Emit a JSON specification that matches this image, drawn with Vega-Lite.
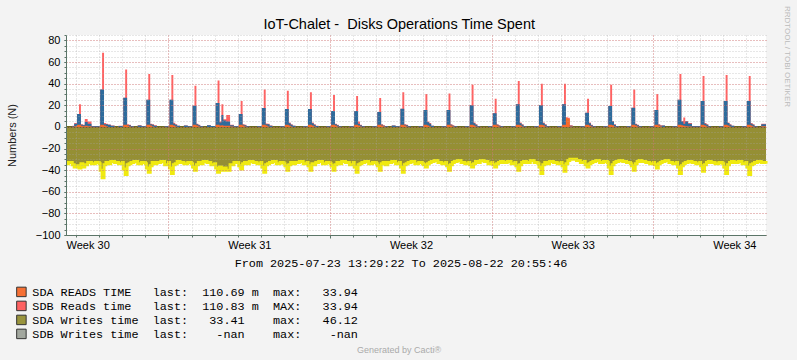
{
"$schema": "https://vega.github.io/schema/vega-lite/v6.json",
"width": 700, "height": 200,
"autosize": {"type": "none"},
"padding": {"left": 66, "top": 35, "right": 31, "bottom": 125},
"background": "#f3f3f3",
"config": {"view": {"stroke": null, "fill": "#ffffff"}, "axis": {"titleFontWeight": "normal", "labelFont": "Liberation Sans", "titleFont": "Liberation Sans"}},
"data": {"values": [
{"t":"2025-07-23T13:29:22Z","b":0,"r":0,"o":0,"w":-34},
{"t":"2025-07-23T16:00Z","b":0,"r":0,"o":0,"w":-33},
{"t":"2025-07-23T20:00Z","b":0.8,"r":1,"o":0.2,"w":-35},
{"t":"2025-07-23T22:00Z","b":3,"r":3.5,"o":0.5,"w":-37},
{"t":"2025-07-24T00:00Z","b":3,"r":3.5,"o":0.5,"w":-36},
{"t":"2025-07-24T01:00Z","b":12,"r":12,"o":2,"w":-36},
{"t":"2025-07-24T03:00Z","b":12,"r":21,"o":2,"w":-38},
{"t":"2025-07-24T05:00Z","b":2,"r":2.5,"o":1,"w":-34},
{"t":"2025-07-24T07:00Z","b":1.5,"r":2,"o":0.5,"w":-37},
{"t":"2025-07-24T09:00Z","b":4.5,"r":7.4,"o":1,"w":-35},
{"t":"2025-07-24T12:00Z","b":3,"r":5,"o":0.5,"w":-33},
{"t":"2025-07-24T16:00Z","b":0.5,"r":0.8,"o":0,"w":-34},
{"t":"2025-07-24T20:00Z","b":0.5,"r":0.5,"o":0,"w":-33},
{"t":"2025-07-25T00:00Z","b":0.5,"r":0.8,"o":0.2,"w":-34},
{"t":"2025-07-25T01:00Z","b":34.5,"r":34.5,"o":2,"w":-40},
{"t":"2025-07-25T03:00Z","b":34.5,"r":68.6,"o":2,"w":-47},
{"t":"2025-07-25T05:00Z","b":2.5,"r":3.5,"o":1.2,"w":-35},
{"t":"2025-07-25T07:00Z","b":2.5,"r":3,"o":0.5,"w":-33},
{"t":"2025-07-25T09:00Z","b":2,"r":2.3,"o":0,"w":-34},
{"t":"2025-07-25T12:00Z","b":1,"r":1.2,"o":0,"w":-32},
{"t":"2025-07-25T16:00Z","b":0,"r":0,"o":0,"w":-33},
{"t":"2025-07-25T20:00Z","b":0.8,"r":1,"o":0,"w":-34},
{"t":"2025-07-26T00:00Z","b":0.8,"r":1,"o":0.2,"w":-33},
{"t":"2025-07-26T01:00Z","b":27,"r":27,"o":2,"w":-39},
{"t":"2025-07-26T03:00Z","b":27,"r":53,"o":2,"w":-44},
{"t":"2025-07-26T05:00Z","b":1.8,"r":2.5,"o":1.2,"w":-35},
{"t":"2025-07-26T07:00Z","b":1.5,"r":2,"o":0.3,"w":-34},
{"t":"2025-07-26T09:00Z","b":0.5,"r":0.8,"o":0,"w":-33},
{"t":"2025-07-26T12:00Z","b":0,"r":0,"o":0,"w":-32},
{"t":"2025-07-26T16:00Z","b":1.2,"r":1.5,"o":0,"w":-34},
{"t":"2025-07-26T20:00Z","b":0.5,"r":0.5,"o":0,"w":-33},
{"t":"2025-07-27T00:00Z","b":0.5,"r":0.5,"o":0,"w":-34},
{"t":"2025-07-27T01:00Z","b":25,"r":25,"o":2,"w":-38},
{"t":"2025-07-27T03:00Z","b":25,"r":49,"o":2,"w":-42},
{"t":"2025-07-27T05:00Z","b":2.5,"r":3,"o":1.2,"w":-36},
{"t":"2025-07-27T07:00Z","b":2,"r":2.5,"o":0.3,"w":-33},
{"t":"2025-07-27T09:00Z","b":1,"r":1.5,"o":0,"w":-34},
{"t":"2025-07-27T12:00Z","b":0,"r":0,"o":0,"w":-33},
{"t":"2025-07-27T16:00Z","b":0,"r":0,"o":0,"w":-32},
{"t":"2025-07-27T20:00Z","b":0.5,"r":0.5,"o":0,"w":-35},
{"t":"2025-07-28T00:00Z","b":0.5,"r":0.5,"o":0,"w":-33},
{"t":"2025-07-28T01:00Z","b":25,"r":25,"o":2,"w":-38},
{"t":"2025-07-28T03:00Z","b":25,"r":48,"o":2,"w":-43},
{"t":"2025-07-28T05:00Z","b":3,"r":3.8,"o":1.2,"w":-35},
{"t":"2025-07-28T07:00Z","b":2,"r":2.5,"o":0.3,"w":-34},
{"t":"2025-07-28T09:00Z","b":1,"r":1,"o":0,"w":-32},
{"t":"2025-07-28T12:00Z","b":0,"r":0,"o":0,"w":-33},
{"t":"2025-07-28T16:00Z","b":1.2,"r":1.2,"o":0,"w":-34},
{"t":"2025-07-28T20:00Z","b":0.5,"r":0.5,"o":0,"w":-33},
{"t":"2025-07-29T00:00Z","b":0.3,"r":0.3,"o":0,"w":-34},
{"t":"2025-07-29T01:00Z","b":19.5,"r":19.5,"o":2,"w":-37},
{"t":"2025-07-29T03:00Z","b":19.5,"r":38,"o":2,"w":-40},
{"t":"2025-07-29T05:00Z","b":2.5,"r":3,"o":1.2,"w":-35},
{"t":"2025-07-29T07:00Z","b":1.5,"r":2,"o":0.3,"w":-33},
{"t":"2025-07-29T09:00Z","b":0.5,"r":0.5,"o":0,"w":-34},
{"t":"2025-07-29T12:00Z","b":0,"r":0,"o":0,"w":-32},
{"t":"2025-07-29T16:00Z","b":1.5,"r":1.5,"o":0,"w":-33},
{"t":"2025-07-29T20:00Z","b":0.8,"r":0.8,"o":0,"w":-35},
{"t":"2025-07-30T00:00Z","b":0.5,"r":0.5,"o":0,"w":-34},
{"t":"2025-07-30T01:00Z","b":22,"r":22,"o":2,"w":-38},
{"t":"2025-07-30T03:00Z","b":22,"r":43,"o":2,"w":-42},
{"t":"2025-07-30T05:00Z","b":4,"r":5,"o":1.2,"w":-37},
{"t":"2025-07-30T07:00Z","b":11,"r":21,"o":1.5,"w":-40},
{"t":"2025-07-30T09:00Z","b":6,"r":7,"o":1,"w":-38},
{"t":"2025-07-30T12:00Z","b":5,"r":11,"o":1,"w":-40},
{"t":"2025-07-30T16:00Z","b":1.5,"r":2,"o":0.3,"w":-35},
{"t":"2025-07-30T20:00Z","b":0.5,"r":0.5,"o":0,"w":-33},
{"t":"2025-07-31T00:00Z","b":0.3,"r":0.3,"o":0,"w":-33},
{"t":"2025-07-31T01:00Z","b":12,"r":12,"o":2,"w":-36},
{"t":"2025-07-31T03:00Z","b":12,"r":24,"o":2,"w":-39},
{"t":"2025-07-31T05:00Z","b":2,"r":2.5,"o":1.2,"w":-34},
{"t":"2025-07-31T07:00Z","b":1.5,"r":2,"o":0.3,"w":-33},
{"t":"2025-07-31T09:00Z","b":0.5,"r":0.5,"o":0,"w":-34},
{"t":"2025-07-31T12:00Z","b":0,"r":0,"o":0,"w":-32},
{"t":"2025-07-31T16:00Z","b":0,"r":0,"o":0,"w":-33},
{"t":"2025-07-31T20:00Z","b":0.5,"r":0.5,"o":0,"w":-34},
{"t":"2025-08-01T00:00Z","b":0.5,"r":0.5,"o":0,"w":-33},
{"t":"2025-08-01T01:00Z","b":17.5,"r":17.5,"o":2,"w":-37},
{"t":"2025-08-01T03:00Z","b":17.5,"r":34.5,"o":2,"w":-42},
{"t":"2025-08-01T05:00Z","b":2.5,"r":3.2,"o":1.2,"w":-35},
{"t":"2025-08-01T07:00Z","b":2.5,"r":3,"o":0.3,"w":-34},
{"t":"2025-08-01T09:00Z","b":1,"r":1.2,"o":0,"w":-33},
{"t":"2025-08-01T12:00Z","b":0,"r":0,"o":0,"w":-32},
{"t":"2025-08-01T16:00Z","b":0,"r":0,"o":0,"w":-34},
{"t":"2025-08-01T20:00Z","b":0.5,"r":0.5,"o":0,"w":-33},
{"t":"2025-08-02T00:00Z","b":0.3,"r":0.3,"o":0,"w":-34},
{"t":"2025-08-02T01:00Z","b":16.6,"r":16.6,"o":2,"w":-36},
{"t":"2025-08-02T03:00Z","b":16.6,"r":33.5,"o":2,"w":-40},
{"t":"2025-08-02T05:00Z","b":3.4,"r":4,"o":1.2,"w":-35},
{"t":"2025-08-02T07:00Z","b":2,"r":2.5,"o":0.3,"w":-33},
{"t":"2025-08-02T09:00Z","b":1,"r":1,"o":0,"w":-34},
{"t":"2025-08-02T12:00Z","b":0,"r":0,"o":0,"w":-33},
{"t":"2025-08-02T16:00Z","b":0,"r":0,"o":0,"w":-32},
{"t":"2025-08-02T20:00Z","b":0.5,"r":0.5,"o":0,"w":-34},
{"t":"2025-08-03T00:00Z","b":0.3,"r":0.3,"o":0,"w":-33},
{"t":"2025-08-03T01:00Z","b":16.6,"r":16.6,"o":2,"w":-36},
{"t":"2025-08-03T03:00Z","b":16.6,"r":32,"o":2,"w":-40},
{"t":"2025-08-03T05:00Z","b":3.4,"r":4,"o":1.2,"w":-34},
{"t":"2025-08-03T07:00Z","b":2,"r":2.5,"o":0.3,"w":-35},
{"t":"2025-08-03T09:00Z","b":0.8,"r":1,"o":0,"w":-33},
{"t":"2025-08-03T12:00Z","b":0,"r":0,"o":0,"w":-32},
{"t":"2025-08-03T16:00Z","b":0,"r":0,"o":0,"w":-34},
{"t":"2025-08-03T20:00Z","b":0.5,"r":0.5,"o":0,"w":-33},
{"t":"2025-08-04T00:00Z","b":0.3,"r":0.3,"o":0,"w":-34},
{"t":"2025-08-04T01:00Z","b":14.8,"r":14.8,"o":2,"w":-36},
{"t":"2025-08-04T03:00Z","b":14.8,"r":29.5,"o":2,"w":-40},
{"t":"2025-08-04T05:00Z","b":2.5,"r":3,"o":1.2,"w":-35},
{"t":"2025-08-04T07:00Z","b":1.5,"r":2,"o":0.3,"w":-33},
{"t":"2025-08-04T09:00Z","b":0.5,"r":0.5,"o":0,"w":-34},
{"t":"2025-08-04T12:00Z","b":0,"r":0,"o":0,"w":-32},
{"t":"2025-08-04T16:00Z","b":0,"r":0,"o":0,"w":-33},
{"t":"2025-08-04T20:00Z","b":0.5,"r":0.5,"o":0,"w":-35},
{"t":"2025-08-05T00:00Z","b":0.3,"r":0.3,"o":0,"w":-33},
{"t":"2025-08-05T01:00Z","b":14.8,"r":14.8,"o":2,"w":-37},
{"t":"2025-08-05T03:00Z","b":14.8,"r":28.6,"o":2,"w":-42},
{"t":"2025-08-05T05:00Z","b":3,"r":5,"o":1.2,"w":-35},
{"t":"2025-08-05T07:00Z","b":1.5,"r":2,"o":0.3,"w":-34},
{"t":"2025-08-05T09:00Z","b":0.5,"r":0.5,"o":0,"w":-33},
{"t":"2025-08-05T12:00Z","b":0,"r":0,"o":0,"w":-32},
{"t":"2025-08-05T16:00Z","b":0,"r":0,"o":0,"w":-34},
{"t":"2025-08-05T20:00Z","b":0.5,"r":0.5,"o":0,"w":-33},
{"t":"2025-08-06T00:00Z","b":0.3,"r":0.3,"o":0,"w":-34},
{"t":"2025-08-06T01:00Z","b":13.8,"r":13.8,"o":2,"w":-36},
{"t":"2025-08-06T03:00Z","b":13.8,"r":26.8,"o":2,"w":-40},
{"t":"2025-08-06T05:00Z","b":2,"r":2.5,"o":1.2,"w":-34},
{"t":"2025-08-06T07:00Z","b":1,"r":1.5,"o":0.3,"w":-33},
{"t":"2025-08-06T09:00Z","b":0.5,"r":0.5,"o":0,"w":-35},
{"t":"2025-08-06T12:00Z","b":0,"r":0,"o":0,"w":-33},
{"t":"2025-08-06T16:00Z","b":1.2,"r":1.2,"o":0,"w":-32},
{"t":"2025-08-06T20:00Z","b":0.5,"r":0.5,"o":0,"w":-34},
{"t":"2025-08-07T00:00Z","b":0.3,"r":0.3,"o":0,"w":-33},
{"t":"2025-08-07T01:00Z","b":16.8,"r":16.8,"o":2,"w":-37},
{"t":"2025-08-07T03:00Z","b":16.8,"r":32,"o":2,"w":-42},
{"t":"2025-08-07T05:00Z","b":2,"r":2.5,"o":1.2,"w":-35},
{"t":"2025-08-07T07:00Z","b":1.5,"r":2,"o":0.3,"w":-34},
{"t":"2025-08-07T09:00Z","b":0.5,"r":0.5,"o":0,"w":-33},
{"t":"2025-08-07T12:00Z","b":0,"r":0,"o":0,"w":-32},
{"t":"2025-08-07T16:00Z","b":0,"r":0,"o":0,"w":-34},
{"t":"2025-08-07T20:00Z","b":0.5,"r":0.5,"o":0,"w":-33},
{"t":"2025-08-08T00:00Z","b":0.3,"r":0.3,"o":0,"w":-34},
{"t":"2025-08-08T01:00Z","b":15.7,"r":15.7,"o":2,"w":-35},
{"t":"2025-08-08T03:00Z","b":15.7,"r":30.5,"o":2,"w":-37},
{"t":"2025-08-08T05:00Z","b":4.3,"r":5,"o":1.2,"w":-34},
{"t":"2025-08-08T07:00Z","b":3,"r":3.5,"o":0.3,"w":-33},
{"t":"2025-08-08T09:00Z","b":1,"r":1,"o":0,"w":-32},
{"t":"2025-08-08T12:00Z","b":0,"r":0,"o":0,"w":-31},
{"t":"2025-08-08T16:00Z","b":0,"r":0,"o":0,"w":-33},
{"t":"2025-08-08T20:00Z","b":0.5,"r":0.5,"o":0,"w":-34},
{"t":"2025-08-09T00:00Z","b":0.3,"r":0.3,"o":0,"w":-33},
{"t":"2025-08-09T01:00Z","b":15.7,"r":15.7,"o":2,"w":-36},
{"t":"2025-08-09T03:00Z","b":15.7,"r":31,"o":2,"w":-40},
{"t":"2025-08-09T05:00Z","b":2,"r":2.5,"o":1.2,"w":-35},
{"t":"2025-08-09T07:00Z","b":1,"r":1.5,"o":0.3,"w":-33},
{"t":"2025-08-09T09:00Z","b":0.5,"r":0.5,"o":0,"w":-32},
{"t":"2025-08-09T12:00Z","b":0,"r":0,"o":0,"w":-31},
{"t":"2025-08-09T16:00Z","b":0,"r":0,"o":0,"w":-33},
{"t":"2025-08-09T20:00Z","b":0.5,"r":0.5,"o":0,"w":-34},
{"t":"2025-08-10T00:00Z","b":0.3,"r":0.3,"o":0,"w":-33},
{"t":"2025-08-10T01:00Z","b":20,"r":20,"o":2,"w":-35},
{"t":"2025-08-10T03:00Z","b":20,"r":39,"o":2,"w":-37},
{"t":"2025-08-10T05:00Z","b":3.4,"r":4,"o":1.2,"w":-34},
{"t":"2025-08-10T07:00Z","b":2,"r":2.5,"o":0.3,"w":-32},
{"t":"2025-08-10T09:00Z","b":0.5,"r":0.5,"o":0,"w":-33},
{"t":"2025-08-10T12:00Z","b":0,"r":0,"o":0,"w":-31},
{"t":"2025-08-10T16:00Z","b":0,"r":0,"o":0,"w":-32},
{"t":"2025-08-10T20:00Z","b":0.5,"r":0.5,"o":0,"w":-34},
{"t":"2025-08-11T00:00Z","b":0.3,"r":0.3,"o":0,"w":-33},
{"t":"2025-08-11T01:00Z","b":12.6,"r":12.6,"o":2,"w":-35},
{"t":"2025-08-11T03:00Z","b":12.6,"r":26,"o":2,"w":-37},
{"t":"2025-08-11T05:00Z","b":2,"r":2.5,"o":1.2,"w":-34},
{"t":"2025-08-11T07:00Z","b":1,"r":1.5,"o":0.3,"w":-33},
{"t":"2025-08-11T09:00Z","b":0.5,"r":0.5,"o":0,"w":-32},
{"t":"2025-08-11T12:00Z","b":0,"r":0,"o":0,"w":-33},
{"t":"2025-08-11T16:00Z","b":0,"r":0,"o":0,"w":-32},
{"t":"2025-08-11T20:00Z","b":0.5,"r":0.5,"o":0,"w":-34},
{"t":"2025-08-12T00:00Z","b":0.3,"r":0.3,"o":0,"w":-33},
{"t":"2025-08-12T01:00Z","b":21,"r":21,"o":2,"w":-36},
{"t":"2025-08-12T03:00Z","b":21,"r":42.5,"o":2,"w":-40},
{"t":"2025-08-12T05:00Z","b":3.4,"r":4,"o":1.5,"w":-35},
{"t":"2025-08-12T07:00Z","b":2,"r":2.5,"o":0.3,"w":-33},
{"t":"2025-08-12T09:00Z","b":0.5,"r":0.5,"o":0,"w":-32},
{"t":"2025-08-12T12:00Z","b":0,"r":0,"o":0,"w":-33},
{"t":"2025-08-12T16:00Z","b":0,"r":0,"o":0,"w":-31},
{"t":"2025-08-12T20:00Z","b":0.5,"r":0.5,"o":0,"w":-33},
{"t":"2025-08-13T00:00Z","b":0.3,"r":0.3,"o":0,"w":-34},
{"t":"2025-08-13T01:00Z","b":20,"r":20,"o":2,"w":-37},
{"t":"2025-08-13T03:00Z","b":20,"r":40,"o":2,"w":-43},
{"t":"2025-08-13T05:00Z","b":3.4,"r":4,"o":1.5,"w":-35},
{"t":"2025-08-13T07:00Z","b":2,"r":2.5,"o":0.3,"w":-33},
{"t":"2025-08-13T09:00Z","b":0.5,"r":0.5,"o":0,"w":-34},
{"t":"2025-08-13T12:00Z","b":0,"r":0,"o":0,"w":-32},
{"t":"2025-08-13T16:00Z","b":0,"r":0,"o":0,"w":-33},
{"t":"2025-08-13T20:00Z","b":0.5,"r":0.5,"o":0,"w":-34},
{"t":"2025-08-14T00:00Z","b":0.3,"r":0.3,"o":0,"w":-33},
{"t":"2025-08-14T01:00Z","b":21,"r":21,"o":2,"w":-36},
{"t":"2025-08-14T03:00Z","b":21,"r":40,"o":2,"w":-41},
{"t":"2025-08-14T05:00Z","b":3,"r":9,"o":8,"w":-34},
{"t":"2025-08-14T07:00Z","b":2,"r":8.5,"o":7.5,"w":-31},
{"t":"2025-08-14T09:00Z","b":1,"r":1.5,"o":0.3,"w":-30},
{"t":"2025-08-14T12:00Z","b":0,"r":0,"o":0,"w":-30},
{"t":"2025-08-14T16:00Z","b":0,"r":0,"o":0,"w":-31},
{"t":"2025-08-14T20:00Z","b":0.5,"r":0.5,"o":0,"w":-33},
{"t":"2025-08-15T00:00Z","b":0.3,"r":0.3,"o":0,"w":-32},
{"t":"2025-08-15T01:00Z","b":13,"r":13,"o":2,"w":-35},
{"t":"2025-08-15T03:00Z","b":13,"r":26,"o":2,"w":-37},
{"t":"2025-08-15T05:00Z","b":3.4,"r":4,"o":1.2,"w":-34},
{"t":"2025-08-15T07:00Z","b":1.5,"r":2,"o":0.3,"w":-33},
{"t":"2025-08-15T09:00Z","b":0.5,"r":0.5,"o":0,"w":-32},
{"t":"2025-08-15T12:00Z","b":0,"r":0,"o":0,"w":-31},
{"t":"2025-08-15T16:00Z","b":0,"r":0,"o":0,"w":-33},
{"t":"2025-08-15T20:00Z","b":0.5,"r":0.5,"o":0,"w":-32},
{"t":"2025-08-16T00:00Z","b":0.3,"r":0.3,"o":0,"w":-33},
{"t":"2025-08-16T01:00Z","b":19.4,"r":19.4,"o":2,"w":-37},
{"t":"2025-08-16T03:00Z","b":19.4,"r":39,"o":2,"w":-43},
{"t":"2025-08-16T05:00Z","b":5,"r":5.5,"o":1.5,"w":-35},
{"t":"2025-08-16T07:00Z","b":2,"r":2.5,"o":0.3,"w":-33},
{"t":"2025-08-16T09:00Z","b":0.5,"r":0.5,"o":0,"w":-32},
{"t":"2025-08-16T12:00Z","b":0,"r":0,"o":0,"w":-31},
{"t":"2025-08-16T16:00Z","b":0,"r":0,"o":0,"w":-32},
{"t":"2025-08-16T20:00Z","b":0.5,"r":0.5,"o":0,"w":-33},
{"t":"2025-08-17T00:00Z","b":0.3,"r":0.3,"o":0,"w":-34},
{"t":"2025-08-17T01:00Z","b":17.8,"r":17.8,"o":2,"w":-36},
{"t":"2025-08-17T03:00Z","b":17.8,"r":34.5,"o":2,"w":-40},
{"t":"2025-08-17T05:00Z","b":2.5,"r":3,"o":1.2,"w":-34},
{"t":"2025-08-17T07:00Z","b":1.5,"r":2,"o":0.3,"w":-32},
{"t":"2025-08-17T09:00Z","b":0.5,"r":0.5,"o":0,"w":-31},
{"t":"2025-08-17T12:00Z","b":0,"r":0,"o":0,"w":-32},
{"t":"2025-08-17T16:00Z","b":0,"r":0,"o":0,"w":-33},
{"t":"2025-08-17T20:00Z","b":0.5,"r":0.5,"o":0,"w":-34},
{"t":"2025-08-18T00:00Z","b":0.3,"r":0.3,"o":0,"w":-33},
{"t":"2025-08-18T01:00Z","b":15.7,"r":15.7,"o":2,"w":-35},
{"t":"2025-08-18T03:00Z","b":15.7,"r":30.5,"o":2,"w":-38},
{"t":"2025-08-18T05:00Z","b":2,"r":2.5,"o":1.2,"w":-34},
{"t":"2025-08-18T07:00Z","b":1,"r":1.5,"o":0.3,"w":-33},
{"t":"2025-08-18T09:00Z","b":1.2,"r":1.2,"o":0,"w":-32},
{"t":"2025-08-18T12:00Z","b":0,"r":0,"o":0,"w":-31},
{"t":"2025-08-18T16:00Z","b":0,"r":0,"o":0,"w":-33},
{"t":"2025-08-18T20:00Z","b":0.5,"r":0.5,"o":0,"w":-34},
{"t":"2025-08-19T00:00Z","b":0.3,"r":0.3,"o":0,"w":-33},
{"t":"2025-08-19T01:00Z","b":25,"r":25,"o":2,"w":-37},
{"t":"2025-08-19T03:00Z","b":25,"r":49,"o":2,"w":-43},
{"t":"2025-08-19T05:00Z","b":5,"r":5.5,"o":1.5,"w":-36},
{"t":"2025-08-19T07:00Z","b":3,"r":8.6,"o":1,"w":-34},
{"t":"2025-08-19T09:00Z","b":5,"r":5.5,"o":0.5,"w":-33},
{"t":"2025-08-19T12:00Z","b":3,"r":3.5,"o":0.3,"w":-32},
{"t":"2025-08-19T16:00Z","b":0.5,"r":0.5,"o":0,"w":-33},
{"t":"2025-08-19T20:00Z","b":0.5,"r":0.5,"o":0,"w":-34},
{"t":"2025-08-20T00:00Z","b":0.3,"r":0.3,"o":0,"w":-33},
{"t":"2025-08-20T01:00Z","b":24,"r":24,"o":2,"w":-36},
{"t":"2025-08-20T03:00Z","b":24,"r":47,"o":2,"w":-41},
{"t":"2025-08-20T05:00Z","b":3,"r":3.5,"o":1.2,"w":-35},
{"t":"2025-08-20T07:00Z","b":2,"r":2.5,"o":0.3,"w":-33},
{"t":"2025-08-20T09:00Z","b":0.5,"r":0.5,"o":0,"w":-32},
{"t":"2025-08-20T12:00Z","b":0,"r":0,"o":0,"w":-33},
{"t":"2025-08-20T16:00Z","b":0,"r":0,"o":0,"w":-34},
{"t":"2025-08-20T20:00Z","b":0.5,"r":0.5,"o":0,"w":-33},
{"t":"2025-08-21T00:00Z","b":0.3,"r":0.3,"o":0,"w":-34},
{"t":"2025-08-21T01:00Z","b":24,"r":24,"o":2,"w":-37},
{"t":"2025-08-21T03:00Z","b":24,"r":48,"o":2,"w":-43},
{"t":"2025-08-21T05:00Z","b":3.5,"r":4,"o":1.2,"w":-35},
{"t":"2025-08-21T07:00Z","b":2,"r":2.5,"o":0.3,"w":-33},
{"t":"2025-08-21T09:00Z","b":1,"r":1,"o":0,"w":-32},
{"t":"2025-08-21T12:00Z","b":0,"r":0,"o":0,"w":-33},
{"t":"2025-08-21T16:00Z","b":0,"r":0,"o":0,"w":-32},
{"t":"2025-08-21T20:00Z","b":0.5,"r":0.5,"o":0,"w":-34},
{"t":"2025-08-22T00:00Z","b":0.3,"r":0.3,"o":0,"w":-33},
{"t":"2025-08-22T01:00Z","b":24,"r":24,"o":2,"w":-37},
{"t":"2025-08-22T03:00Z","b":24,"r":47,"o":2,"w":-44},
{"t":"2025-08-22T05:00Z","b":3,"r":3.5,"o":1.2,"w":-35},
{"t":"2025-08-22T07:00Z","b":2,"r":2.5,"o":0.3,"w":-34},
{"t":"2025-08-22T09:00Z","b":0.5,"r":0.5,"o":0,"w":-33},
{"t":"2025-08-22T12:00Z","b":0,"r":0,"o":0,"w":-32},
{"t":"2025-08-22T16:00Z","b":2.5,"r":3,"o":0.5,"w":-33},
{"t":"2025-08-22T20:55:46Z","b":2.5,"r":3,"o":0.5,"w":-34}
]},
"layer": [
{"mark": {"type": "area", "interpolate": "step-after"},
 "encoding": {
  "x": {"field": "t", "type": "temporal", "scale": {"type": "utc", "nice": false, "domain": [{"year":2025,"month":7,"date":23,"hours":13,"minutes":29,"seconds":22,"utc":true},{"year":2025,"month":8,"date":22,"hours":20,"minutes":55,"seconds":46,"utc":true}]},
   "axis": {"orient": "bottom", "values": [{"year":2025,"month":7,"date":24,"hours":12,"utc":true},{"year":2025,"month":7,"date":31,"hours":12,"utc":true},{"year":2025,"month":8,"date":7,"hours":12,"utc":true},{"year":2025,"month":8,"date":14,"hours":12,"utc":true},{"year":2025,"month":8,"date":21,"hours":12,"utc":true}],
    "format": "Week %V", "grid": false, "ticks": false, "domain": true, "domainColor": "#5b7568", "domainWidth": 1,
    "labelFont": "Liberation Sans", "labelFontSize": 11, "labelColor": "#000000", "labelPadding": 13, "labelBaseline": "alphabetic", "labelAlign": "center", "labelFlush": false, "labelOverlap": false,
    "title": "From 2025-07-23 13:29:22 To 2025-08-22 20:55:46", "titleFont": "Liberation Mono", "titleFontSize": 11.8, "titleColor": "#000000", "titleX": 334.5, "titleY": 31.7, "titleAlign": "center", "titleBaseline": "alphabetic", "zindex": 2}},
  "y": {"field": "w", "type": "quantitative", "scale": {"domain": [-100, 85], "nice": false, "zero": false},
   "axis": {"orient": "left", "values": [-100,-80,-60,-40,-20,0,20,40,60,80], "grid": true, "gridColor": "#ee5555", "gridOpacity": 0.55, "gridDash": [1,2], "ticks": true, "tickSize": 2, "tickColor": "#5b7568", "domain": true, "domainColor": "#5b7568",
    "labelFont": "Liberation Sans", "labelFontSize": 11, "labelColor": "#000000", "labelPadding": 4, "title": null, "zindex": 2}},
  "y2": {"datum": 0},
  "color": {"datum": "SDA Writes time", "type": "nominal",
   "scale": {"domain": ["SDA READS TIME", "SDB Reads time", "SDA Writes time", "SDB Writes time"], "range": ["#f76a2a", "#ff5a5a", "#958f34", "#9ea39a"]},
   "legend": {"orient": "none", "legendX": -50.5, "legendY": 251, "direction": "vertical", "title": null, "symbolType": "square", "symbolSize": 90, "symbolStrokeColor": "#2b2b2b", "symbolStrokeWidth": 1, "symbolOpacity": 1,
    "labelFont": "Liberation Mono", "labelFontSize": 11.8, "labelColor": "#000000", "labelOffset": 5, "labelLimit": 1000, "rowPadding": 0, "padding": 0,
    "labelExpr": "datum.label == 'SDA READS TIME' ? 'SDA READS TIME\u00a0\u00a0\u00a0last:\u00a0\u00a0110.69\u00a0m\u00a0\u00a0max:\u00a0\u00a0\u00a033.94' : datum.label == 'SDB Reads time' ? 'SDB Reads time\u00a0\u00a0\u00a0last:\u00a0\u00a0110.83\u00a0m\u00a0\u00a0MAX:\u00a0\u00a0\u00a033.94' : datum.label == 'SDA Writes time' ? 'SDA Writes time\u00a0\u00a0last:\u00a0\u00a0\u00a033.41\u00a0\u00a0\u00a0\u00a0max:\u00a0\u00a0\u00a046.12' : 'SDB Writes time\u00a0\u00a0last:\u00a0\u00a0\u00a0\u00a0-nan\u00a0\u00a0\u00a0\u00a0max:\u00a0\u00a0\u00a0\u00a0-nan'"}}
 }},
{"mark": {"type": "line", "interpolate": "step-after", "color": "#f0ea10", "strokeWidth": 3},
 "encoding": {
  "x": {"field": "t", "type": "temporal", "scale": {"type": "utc", "nice": false, "domain": [{"year":2025,"month":7,"date":23,"hours":13,"minutes":29,"seconds":22,"utc":true},{"year":2025,"month":8,"date":22,"hours":20,"minutes":55,"seconds":46,"utc":true}]},
   "axis": {"orient": "bottom", "tickCount": {"interval": "day", "step": 1}, "labels": false, "domain": false, "ticks": true, "tickSize": 2, "tickColor": "#5b7568", "grid": true, "gridColor": "#aaaaaa", "gridOpacity": 0.55, "gridDash": [1,2],
    "title": "Generated by Cacti®", "titleFont": "Liberation Sans", "titleFontSize": 9, "titleColor": "#aaaaaa", "titleX": 332.5, "titleY": 117, "titleAlign": "center", "titleBaseline": "alphabetic", "zindex": 1}},
  "y": {"field": "w", "type": "quantitative", "scale": {"domain": [-100, 85], "nice": false, "zero": false},
   "axis": {"orient": "left", "values": [-100,-95,-90,-85,-80,-75,-70,-65,-60,-55,-50,-45,-40,-35,-30,-25,-20,-15,-10,-5,0,5,10,15,20,25,30,35,40,45,50,55,60,65,70,75,80,85], "labels": false, "domain": false, "ticks": true, "tickSize": 2, "tickColor": "#5b7568", "grid": true, "gridColor": "#aaaaaa", "gridOpacity": 0.55, "gridDash": [1,2],
    "title": "Numbers (N)", "titleFont": "Liberation Sans", "titleFontSize": 11, "titleColor": "#222222", "titleAngle": -90, "titleX": -51, "titleY": 100, "titleAlign": "center", "titleBaseline": "alphabetic", "zindex": 1}}
 }},
{"mark": {"type": "rule", "color": "#6b6a20", "strokeWidth": 2},
 "encoding": {"y": {"datum": 0, "type": "quantitative", "scale": {"domain": [-100, 85], "nice": false, "zero": false}, "axis": null}}},
{"mark": {"type": "area", "interpolate": "step-after", "opacity": 0.95},
 "encoding": {
  "x": {"field": "t", "type": "temporal", "scale": {"type": "utc", "nice": false, "domain": [{"year":2025,"month":7,"date":23,"hours":13,"minutes":29,"seconds":22,"utc":true},{"year":2025,"month":8,"date":22,"hours":20,"minutes":55,"seconds":46,"utc":true}]},
   "axis": {"orient": "bottom", "values": [{"year":2025,"month":7,"date":28,"utc":true},{"year":2025,"month":8,"date":4,"utc":true},{"year":2025,"month":8,"date":11,"utc":true},{"year":2025,"month":8,"date":18,"utc":true}], "labels": false, "domain": false, "ticks": true, "tickSize": 3, "tickColor": "#5b7568", "grid": true, "gridColor": "#ee5555", "gridOpacity": 0.55, "gridDash": [1,2], "title": null, "zindex": 1}},
  "y": {"field": "r", "type": "quantitative", "scale": {"domain": [-100, 85], "nice": false, "zero": false},
   "axis": {"orient": "right", "domain": false, "ticks": false, "labels": false, "grid": false, "title": "RRDTOOL / TOBI OETIKER", "titleFont": "Liberation Sans", "titleFontSize": 8, "titleColor": "#bbbbbb", "titleAngle": 90, "titleX": 18, "titleY": 21, "titleAlign": "center", "titleBaseline": "alphabetic"}},
  "y2": {"datum": 0},
  "color": {"datum": "SDB Reads time", "type": "nominal",
   "scale": {"domain": ["SDA READS TIME", "SDB Reads time", "SDA Writes time", "SDB Writes time"], "range": ["#f76a2a", "#ff5a5a", "#958f34", "#9ea39a"]}}
 }},
{"mark": {"type": "area", "interpolate": "step-after", "color": "#2e6b9c"},
 "encoding": {
  "x": {"field": "t", "type": "temporal", "scale": {"type": "utc", "nice": false, "domain": [{"year":2025,"month":7,"date":23,"hours":13,"minutes":29,"seconds":22,"utc":true},{"year":2025,"month":8,"date":22,"hours":20,"minutes":55,"seconds":46,"utc":true}]},
   "axis": {"orient": "top", "domain": false, "ticks": false, "labels": false, "grid": false, "title": "IoT-Chalet -\u00a0 Disks Operations Time Spent", "titleFont": "Liberation Sans", "titleFontSize": 14.5, "titleColor": "#000000", "titleX": 332.7, "titleY": -6.7, "titleAlign": "center", "titleBaseline": "alphabetic", "titleAngle": 0}},
  "y": {"field": "b", "type": "quantitative", "scale": {"domain": [-100, 85], "nice": false, "zero": false}, "axis": null},
  "y2": {"datum": 0}
 }},
{"mark": {"type": "area", "interpolate": "step-after"},
 "encoding": {
  "x": {"field": "t", "type": "temporal", "scale": {"type": "utc", "nice": false, "domain": [{"year":2025,"month":7,"date":23,"hours":13,"minutes":29,"seconds":22,"utc":true},{"year":2025,"month":8,"date":22,"hours":20,"minutes":55,"seconds":46,"utc":true}]}, "axis": null},
  "y": {"field": "o", "type": "quantitative", "scale": {"domain": [-100, 85], "nice": false, "zero": false}, "axis": null},
  "y2": {"datum": 0},
  "color": {"datum": "SDA READS TIME", "type": "nominal",
   "scale": {"domain": ["SDA READS TIME", "SDB Reads time", "SDA Writes time", "SDB Writes time"], "range": ["#f76a2a", "#ff5a5a", "#958f34", "#9ea39a"]}}
 }}
],
"resolve": {"axis": {"x": "independent", "y": "independent"}}
}
